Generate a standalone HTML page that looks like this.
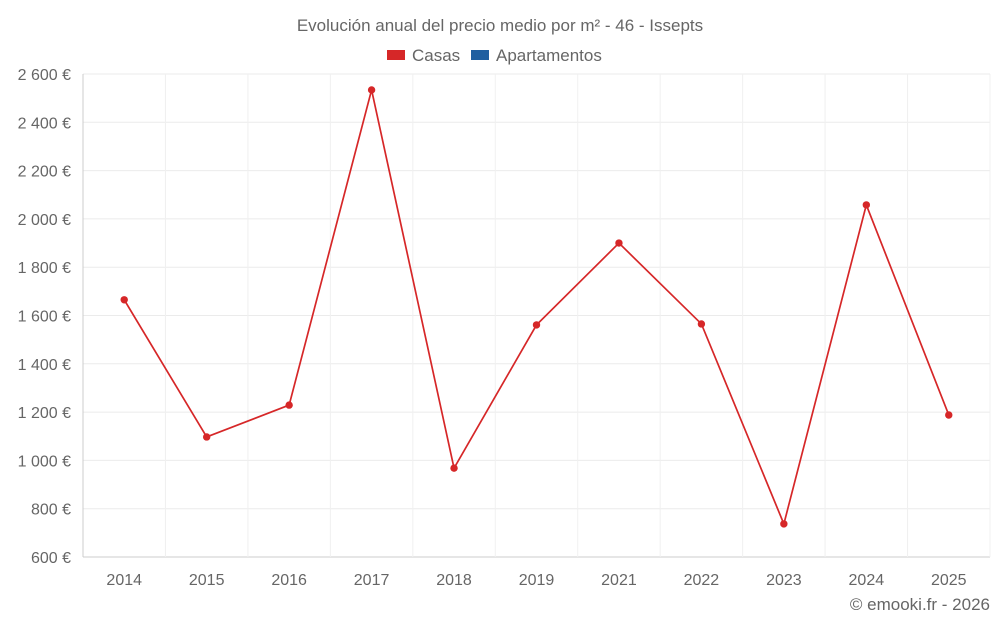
<!DOCTYPE html>
<html><head><meta charset="utf-8"><style>
body{margin:0;background:#fff;font-family:"Liberation Sans",sans-serif;}
svg text{font-family:"Liberation Sans",sans-serif;fill:#666;}
</style></head><body>
<svg id="c" width="1000" height="625">
<text x="500" y="31" text-anchor="middle" font-size="17">Evolución anual del precio medio por m² - 46 - Issepts</text>
<g>
<rect x="387" y="50" width="18" height="10" fill="#d62728"/>
<text x="412" y="61" font-size="17">Casas</text>
<rect x="471" y="50" width="18" height="10" fill="#1f5fa0"/>
<text x="496" y="61" font-size="17">Apartamentos</text>
</g>
<g id="grid"></g><g id="axes"></g><g id="series"></g>
<text x="990" y="610" text-anchor="end" font-size="17">© emooki.fr - 2026</text>
</svg>
<script>
const categories=["2014","2015","2016","2017","2018","2019","2021","2022","2023","2024","2025"];
const casas=[1665,1097,1229,2534,968,1561,1900,1565,737,2058,1188];
const yTicks=[600,800,1000,1200,1400,1600,1800,2000,2200,2400,2600];
const yTickLabels=["600 €","800 €","1 000 €","1 200 €","1 400 €","1 600 €","1 800 €","2 000 €","2 200 €","2 400 €","2 600 €"];
const L=83,R=990,T=74,B=557,yMin=600,yMax=2600;
const ns="http://www.w3.org/2000/svg";
const bw=(R-L)/categories.length;
function x(i){return L+bw*(i+0.5);}
function y(v){return B-(v-yMin)/(yMax-yMin)*(B-T);}
function mk(t,a,p){const e=document.createElementNS(ns,t);for(const k in a)e.setAttribute(k,a[k]);p.appendChild(e);return e;}
const g=document.getElementById('grid'),ax=document.getElementById('axes'),s=document.getElementById('series');
yTicks.forEach((v,i)=>{
 const l=mk('line',{x1:L,x2:R,y1:y(v),y2:y(v),stroke:i==0?'#ccc':'#ebebeb'},g);
 
 
 const t=mk('text',{x:71,y:y(v)+6,'text-anchor':'end','font-size':16},ax);
 t.textContent=yTickLabels[i];
 
 
});
for(let i=0;i<=categories.length;i++){
 const l=mk('line',{x1:L+bw*i,x2:L+bw*i,y1:T,y2:B,stroke:i==0?'#ccc':'#f0f0f0'},g);
 
 
}
categories.forEach((c,i)=>{
 const t=mk('text',{x:x(i),y:585,'text-anchor':'middle','font-size':16},ax);
 t.textContent=c;
 
 
});
const p=mk('polyline',{points:casas.map((v,i)=>x(i)+','+y(v)).join(' '),fill:'none',stroke:'#d62728','stroke-width':1.7},s);


casas.forEach((v,i)=>{
 const c=mk('circle',{cx:x(i),cy:y(v),r:3.7,fill:'#d62728'},s);
 
 
});
</script>
</body></html>
